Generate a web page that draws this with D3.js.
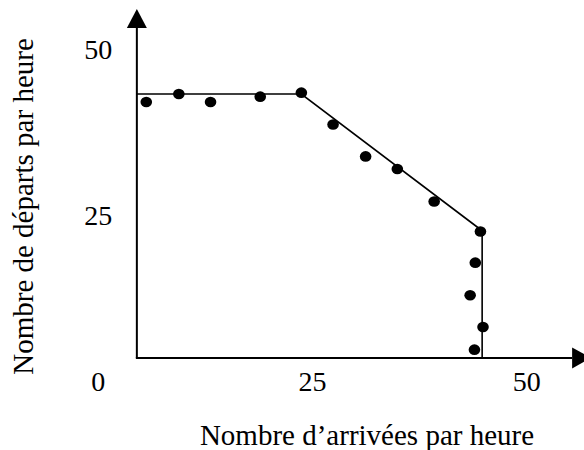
<!DOCTYPE html>
<html>
<head>
<meta charset="utf-8">
<script src="https://cdn.jsdelivr.net/npm/d3@7"></script>
<style>
  html, body { margin: 0; padding: 0; background: #fff; }
  svg { display: block; }
  svg text { font-family: "Liberation Serif", "Times New Roman", Times, "DejaVu Serif", serif; fill: #000; }
</style>
</head>
<body>
<svg id="chart" width="584" height="450"></svg>
<script>
// ---- data ----
const arrivals   = [5.6, 9.4, 13.1, 18.9, 23.7, 27.4, 31.2, 34.9, 39.2, 44.6, 44.0, 43.4, 44.9, 43.9];
const departures = [42.1, 43.3, 42.1, 42.9, 43.5, 38.7, 33.9, 32.0, 27.1, 22.6, 17.9, 13.0, 8.2, 4.8];
// capacity envelope vertices
const envX = [4.5, 23.7, 44.8, 44.8];
const envY = [43.3, 43.3, 22.7, 3.55];
const xTickLabels = ["0", "25", "50"];
const xTickValues = [0, 25, 50];
const yTickLabels = ["25", "50"];
const yTickValues = [25, 50];
const xTitle = "Nombre d\u2019arrivées par heure";
const yTitle = "Nombre de départs par heure";
// axis origin / ends in data units
const axisOrigin = [4.5, 3.55];
const xAxisEnd = 55.3;
const yAxisEnd = 56.1;

// ---- scales ----
const x = d3.scaleLinear().domain([0, 50]).range([98.3, 526.7]);
const y = d3.scaleLinear().domain([0, 50]).range([381.5, 49.5]);

const svg = d3.select("#chart");

// axes
const ox = x(axisOrigin[0]), oy = y(axisOrigin[1]);
svg.append("line")
  .attr("x1", ox - 1).attr("y1", oy).attr("x2", x(xAxisEnd)).attr("y2", oy)
  .attr("stroke", "#000").attr("stroke-width", 2);
svg.append("line")
  .attr("x1", ox).attr("y1", oy).attr("x2", ox).attr("y2", y(yAxisEnd) + 17)
  .attr("stroke", "#000").attr("stroke-width", 2);
// arrowheads
const ytip = y(yAxisEnd);
svg.append("path")
  .attr("d", `M${ox},${ytip} L${ox - 10},${ytip + 19} L${ox + 10},${ytip + 19} Z`)
  .attr("fill", "#000");
const xb = x(xAxisEnd);
svg.append("path")
  .attr("d", `M${xb},${oy - 10.5} L${xb + 19},${oy} L${xb},${oy + 10.5} Z`)
  .attr("fill", "#000");

// envelope line
const env = envX.map((v, i) => [v, envY[i]]);
svg.append("path")
  .datum(env)
  .attr("d", d3.line().x(d => x(d[0])).y(d => y(d[1])))
  .attr("fill", "none").attr("stroke", "#000").attr("stroke-width", 1.6);

// points
const pts = arrivals.map((v, i) => ({ a: v, d: departures[i] }));
svg.selectAll("ellipse.pt").data(pts).enter().append("ellipse")
  .attr("class", "pt")
  .attr("cx", d => x(d.a)).attr("cy", d => y(d.d))
  .attr("rx", 5.8).attr("ry", 5.3)
  .attr("fill", "#000");

// tick labels
svg.selectAll("text.xt").data(xTickValues).enter().append("text")
  .attr("class", "xt")
  .attr("x", d => x(d)).attr("y", y(0)).attr("dy", "0.34em")
  .attr("text-anchor", "middle")
  .style("font-size", "28px")
  .text((d, i) => xTickLabels[i]);
svg.selectAll("text.yt").data(yTickValues).enter().append("text")
  .attr("class", "yt")
  .attr("x", x(0)).attr("y", d => y(d)).attr("dy", "0.34em")
  .attr("text-anchor", "middle")
  .style("font-size", "28px")
  .text((d, i) => yTickLabels[i]);

// titles
svg.append("text")
  .attr("x", 367).attr("y", 445)
  .attr("text-anchor", "middle")
  .style("font-size", "29px")
  .text(xTitle);
svg.append("text")
  .attr("transform", "translate(33.3,206.5) rotate(-90)")
  .attr("text-anchor", "middle")
  .style("font-size", "29px")
  .text(yTitle);
</script>
</body>
</html>
